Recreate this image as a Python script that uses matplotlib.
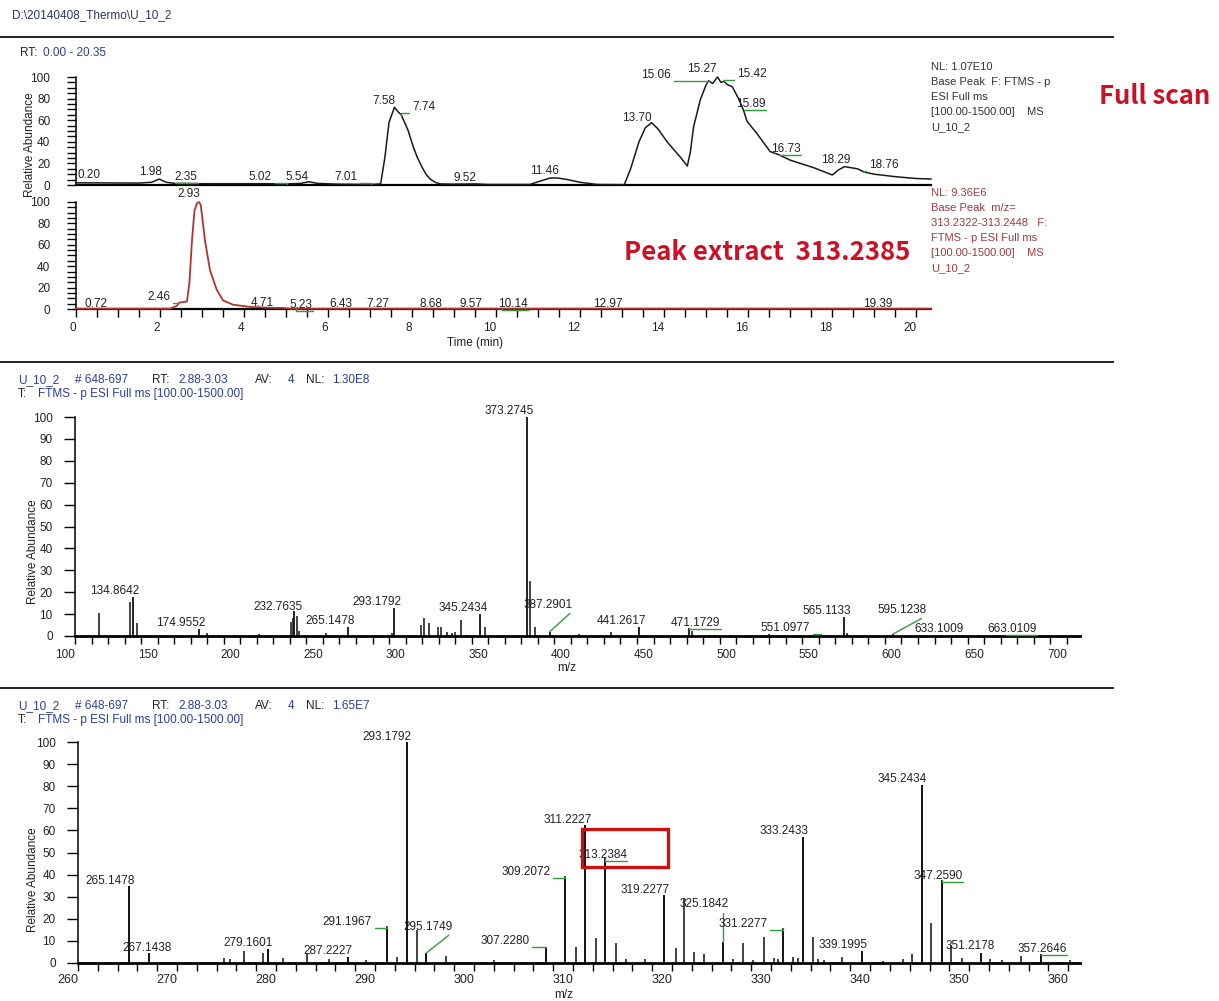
import matplotlib
matplotlib.use("Agg")
import matplotlib.pyplot as plt
from matplotlib.lines import Line2D
from matplotlib.patches import Rectangle

W, H = 1219, 1001
NARROW = ["Liberation Sans Narrow", "Liberation Sans", "DejaVu Sans"]
plt.rcParams["font.family"] = NARROW

INK = "#222222"
BLUE = "#2b3f9e"
GREEN = "#2f9e3a"
DARKRED = "#a33a3a"
BIGRED = "#cc1126"
FS = 8.5

# ---- base peak chromatogram, full scan (RT min, relative abundance) ----
bpc_rt = [0.00, 0.20, 1.50, 1.80, 1.98, 2.15, 2.35, 3.00, 4.50, 5.02,
          5.35, 5.54, 5.75, 6.20, 7.01, 7.25, 7.35, 7.45, 7.58, 7.66,
          7.74, 7.82, 7.90, 8.03, 8.13, 8.23, 8.33, 8.43, 8.55, 8.67,
          9.00, 9.52, 9.80, 10.80, 11.00, 11.29, 11.46, 11.70, 12.00, 12.40,
          13.05, 13.20, 13.40, 13.55, 13.70, 13.85, 14.07, 14.20, 14.38, 14.55,
          14.62, 14.70, 14.86, 15.00, 15.06, 15.15, 15.27, 15.35, 15.42, 15.50,
          15.62, 15.77, 15.89, 15.97, 16.20, 16.52, 16.73, 17.00, 17.56, 18.00,
          18.15, 18.29, 18.45, 18.60, 18.76, 19.00, 19.50, 20.00, 20.35]
bpc_ab = [2.0, 2.0, 1.8, 2.5, 5.5, 2.5, 1.5, 1.2, 1.2, 1.0,
          1.5, 3.0, 1.5, 0.8, 0.5, 1.0, 25, 58, 72, 68,
          65, 58, 51, 35, 25, 17, 10, 5.5, 2.5, 1.0,
          0.8, 1.0, 0.5, 0.5, 3.0, 6.5, 6.5, 5.0, 2.5, 0.5,
          0.3, 15, 40, 53, 57.7, 52, 40, 34, 26, 17.6,
          30, 54, 79, 93, 96.6, 94, 100, 95, 96, 93,
          91, 80, 69, 59, 48, 31, 28, 23, 16, 9.3,
          14, 17, 16, 15, 12, 10, 7.7, 6.0, 5.5]
bpc_labels = [0.20, 1.98, 2.35, 5.02, 5.54, 7.01, 7.58, 7.74, 9.52, 11.46,
              13.70, 15.06, 15.27, 15.42, 15.89, 16.73, 18.29, 18.76]

# ---- extracted ion chromatogram m/z 313.2322-313.2448 ----
xic_rt = [0.00, 0.72, 2.24, 2.40, 2.46, 2.64, 2.70, 2.76, 2.82, 2.88,
          2.93, 2.97, 3.07, 3.19, 3.35, 3.50, 3.74, 4.14, 4.71, 4.93,
          5.10, 5.23, 6.43, 7.27, 8.68, 9.57, 10.14, 12.97, 19.39, 20.35]
xic_ab = [0.3, 0.3, 0.3, 3.0, 6.0, 7.0, 25, 64, 92, 99,
          100, 97, 64, 36, 18, 8, 4, 2, 1, 1,
          0.3, 0.3, 0.3, 0.3, 0.3, 0.3, 0.3, 0.3, 0.3, 0.3]
xic_labels = [0.72, 2.46, 2.93, 4.71, 5.23, 6.43, 7.27, 8.68, 9.57, 10.14,
              12.97, 19.39]

# ---- averaged spectrum, RT 2.88-3.03, m/z 100-700 ----
ms_wide_mz = [134.8642, 174.9552, 232.7635, 265.1478, 293.1792, 345.2434,
              373.2745, 387.2901, 441.2617, 471.1729, 551.0977, 565.1133,
              595.1238, 633.1009, 663.0109]
ms_wide_ab = [18, 3, 11.5, 4.3, 12.8, 10, 100, 2, 4, 3.5, 1, 8.8, 1, 0.5, 0.5]
ms_wide_minor_mz = [114.4, 133.3, 137.5, 179.7, 211.6, 230.9, 231.9, 234.1,
                    235.6, 251.9, 291.5, 309.3, 311.4, 313.9, 319.7, 321.3,
                    325.0, 327.8, 330.0, 333.6, 348.0, 375.3, 378.0, 405.0,
                    424.5, 473.5, 520.0, 567.0]
ms_wide_minor_ab = [10.5, 15.7, 6, 1.3, 1, 6.5, 8, 9,
                    2.5, 1.5, 1.5, 5, 8.2, 6, 4, 4,
                    2, 1.5, 2, 7.3, 4, 25, 4, 1,
                    2, 2.5, 0.8, 1.5]

# ---- same spectrum, zoomed to m/z 260-361 ----
ms_zoom_mz = [265.1478, 267.1438, 279.1601, 287.2227, 291.1967, 293.1792,
              295.1749, 307.2280, 309.2072, 311.2227, 313.2384, 319.2277,
              325.1842, 331.2277, 333.2433, 339.1995, 345.2434, 347.2590,
              351.2178, 357.2646]
ms_zoom_ab = [35, 4.4, 6.2, 2.6, 16.7, 100, 4.4, 7, 39.5, 62.6, 47.4, 30.5,
              9.5, 15.8, 57.2, 5.5, 80.8, 37.3, 4.5, 4]
ms_zoom_minor_mz = [274.7, 275.4, 276.8, 278.7, 280.7, 283.1, 285.3, 289.1,
                    292.2, 294.2, 297.2, 302.0, 310.3, 312.3, 314.3, 315.3,
                    317.3, 320.4, 321.2, 322.2, 323.2, 326.2, 327.2, 328.2,
                    329.3, 330.3, 330.7, 332.2, 332.7, 334.2, 334.7, 335.3,
                    337.2, 341.3, 343.3, 344.2, 346.2, 348.2, 349.3, 352.1,
                    353.3, 355.2, 360.2]
ms_zoom_minor_ab = [2, 1.5, 5.3, 4.4, 2, 4.4, 1.5, 1,
                    2.6, 15, 3, 1, 7, 11.4, 9, 1.5,
                    1.5, 6.7, 29.5, 5, 4, 1.5, 9, 1,
                    11.7, 2, 1.5, 2.5, 2, 11.8, 1.5, 1,
                    2.5, 0.8, 1.5, 4, 18.2, 8, 2, 1.5,
                    1, 3, 1]

# label placement: (dx, dy) in pixels of the text's right/baseline corner
# relative to the apex, plus the leader style (None, "angle" or "diag")
bpc_label_pos = {0.20: (16, 5, None), 1.98: (3, 4, None), 2.35: (23, 3, "angle"),
                 5.02: (-15, 4, "angle"), 5.54: (0, 2, None), 7.01: (-13, 4, "angle"),
                 7.58: (1, 3, None), 7.74: (34, 5, "angle"), 9.52: (0, 3, None),
                 11.46: (1, 3.5, None), 13.70: (0, 2, None), 15.06: (-38, 3, "angle"),
                 15.27: (-1, 4.5, None), 15.42: (43, 4, "angle"), 15.89: (22, 3, "angle"),
                 16.73: (22, 2.5, "angle"), 18.29: (6, 4, None), 18.76: (34, 4.5, "angle")}
xic_label_pos = {0.72: (1, 2, None), 2.46: (-9, 2.6, "angle"), 2.93: (1, 4.5, None),
                 4.71: (0, 2, None), 5.23: (17, 1, "angle"), 6.43: (6, 2, None),
                 7.27: (8, 2, None), 8.68: (1.5, 2, None), 9.57: (4, 2, None),
                 10.14: (26, 2, "angle"), 12.97: (2, 2, None), 19.39: (2, 2, None)}
ms_wide_label_pos = {387.2901: (23, 24, "diag"), 471.1729: (32, 2.3, "angle"),
                     551.0977: (-10.5, 2.8, "angle"), 595.1238: (33, 21, "diag"),
                     663.0109: (31, 2.5, "angle"), 232.7635: (8, 1.3, None)}
ms_zoom_label_pos = {265.1478: (6, 1.2, None), 267.1438: (23, 2, None),
                     291.1967: (-15, 0.5, "angle"), 295.1749: (26, 23.5, "diag"),
                     307.2280: (-16, 3.5, "angle"), 309.2072: (-15, 0.5, "angle"),
                     311.2227: (7, 1.5, None), 313.2384: (22, 0.6, "angle"),
                     325.1842: (5, 34.6, "angle"), 331.2277: (-16, 1, "angle"),
                     347.2590: (21, 1, "angle"), 351.2178: (14, 3.3, None),
                     357.2646: (26, 2, "angle")}


def px_rect(x0, y0, x1, y1):
    return [x0 / W, 1 - y1 / H, (x1 - x0) / W, (y1 - y0) / H]


def fig_text(fig, x, y, s, **kw):
    kw.setdefault("fontsize", FS)
    kw.setdefault("va", "center")
    fig.text(x / W, 1 - y / H, s, **kw)


def label_peak(ax, x, y, text, pos, default=(5, 3, None)):
    dx, dy, leader = pos if pos is not None else default
    kw = {}
    if leader:
        style = "angle,angleA=0,angleB=90,rad=0" if leader == "angle" else "arc3"
        kw["arrowprops"] = dict(arrowstyle="-", color=GREEN, lw=1.0,
                                shrinkA=0, shrinkB=0, relpos=(1, 0),
                                connectionstyle=style)
    ax.annotate(text, xy=(x, y), xytext=(dx, dy), textcoords="offset pixels",
                ha="right", va="baseline", fontsize=FS, color=INK,
                annotation_clip=False, **kw)


def frame(ax, bottom_lw):
    for side in ("top", "right"):
        ax.spines[side].set_visible(False)
    ax.spines["left"].set_linewidth(1.1)
    ax.spines["bottom"].set_linewidth(bottom_lw)
    ax.patch.set_visible(False)


fig = plt.figure(figsize=(W / 100, H / 100), dpi=100)

# file header and panel separators
fig_text(fig, 12, 15, r"D:\20140408_Thermo\U_10_2", color="#2b3566")
for y in (37, 362, 688):
    fig.add_artist(Line2D([0, 1113 / W], [1 - y / H] * 2, color=INK, lw=1.4))
fig_text(fig, 20, 53, "RT:", color=INK)
fig_text(fig, 43, 53, "0.00 - 20.35", color=BLUE)

# ---------- chromatograms ----------
ax_bpc = fig.add_axes(px_rect(76, 77, 931, 185))
ax_xic = fig.add_axes(px_rect(76, 202, 931, 309))
for ax in (ax_bpc, ax_xic):
    frame(ax, 1.6)
    ax.set_xlim(0, 20.35)
    ax.set_ylim(0, 100)
    ax.set_yticks(range(0, 101, 20), [str(v) for v in range(0, 101, 20)],
                  fontsize=FS, color=INK)
    ax.set_yticks(range(0, 101, 5), minor=True)
    ax.tick_params(axis="y", which="both", direction="out", length=6.5,
                   width=1, pad=12)

ax_bpc.set_xticks([])
ax_bpc.plot(bpc_rt, bpc_ab, color="#1a1a1a", lw=1.1, clip_on=False, zorder=3)
bpc_lookup = dict(zip(bpc_rt, bpc_ab))
for rt in bpc_labels:
    label_peak(ax_bpc, rt, bpc_lookup[rt], f"{rt:.2f}", bpc_label_pos[rt])

ax_xic.set_xticks(range(0, 21, 2), [str(v) for v in range(0, 21, 2)],
                  fontsize=FS, color=INK, ha="right")
ax_xic.set_xticks([v * 0.5 for v in range(41)], minor=True)
ax_xic.tick_params(axis="x", which="both", direction="out", length=6,
                   width=1, pad=3.5)
ax_xic.plot(xic_rt, xic_ab, color="#b03434", lw=1.3, clip_on=False, zorder=3)
xic_lookup = dict(zip(xic_rt, xic_ab))
for rt in xic_labels:
    label_peak(ax_xic, rt, xic_lookup[rt], f"{rt:.2f}", xic_label_pos[rt])

fig_text(fig, 30, 145, "Relative Abundance", rotation=90, ha="center", color=INK)
fig_text(fig, 475, 343, "Time (min)", ha="center", color=INK)

# trace info blocks
for i, line in enumerate(["NL: 1.07E10", "Base Peak  F: FTMS - p", "ESI Full ms",
                          "[100.00-1500.00]    MS", "U_10_2"]):
    fig_text(fig, 931, 67 + 15 * i, line, color="#333333", fontsize=8)
for i, line in enumerate(["NL: 9.36E6", "Base Peak  m/z=", "313.2322-313.2448   F:",
                          "FTMS - p ESI Full ms", "[100.00-1500.00]    MS", "U_10_2"]):
    fig_text(fig, 931, 193 + 15 * i, line, color=DARKRED, fontsize=8)

big = dict(family=["Noto Sans CJK KR", "DejaVu Sans"], weight="bold",
           fontsize=18.5, color=BIGRED, ha="center")
fig_text(fig, 1155, 97, "Full scan", **big)
fig_text(fig, 767, 252, "Peak extract  313.2385", **big)


# ---------- spectra ----------
def spectrum_header(y, nl):
    pieces = [(18, "U_10_2", BLUE), (75, "# 648-697", BLUE), (152, "RT:", INK),
              (178, "2.88-3.03", BLUE), (255, "AV:", INK), (288, "4", BLUE),
              (306, "NL:", INK), (332, nl, BLUE)]
    for x, s, c in pieces:
        fig_text(fig, x, y, s, color=c)
    fig_text(fig, 18, y + 14, "T:", color=INK)
    fig_text(fig, 38, y + 14, "FTMS - p ESI Full ms [100.00-1500.00]", color=BLUE)


def spectrum_axes(rect, xlim, major, minor, tick_fs, tick_pad):
    ax = fig.add_axes(rect)
    frame(ax, 2.0)
    ax.set_xlim(*xlim)
    ax.set_ylim(0, 100)
    ax.set_xticks(major, [str(v) for v in major], fontsize=tick_fs,
                  color=INK, ha="right")
    ax.set_xticks(minor, minor=True)
    ax.tick_params(axis="x", which="both", direction="out", length=6,
                   width=1, pad=tick_pad)
    ax.set_yticks(range(0, 101, 10), [str(v) for v in range(0, 101, 10)],
                  fontsize=FS, color=INK)
    ax.tick_params(axis="y", direction="out", length=8, width=1, pad=8)
    return ax


spectrum_header(380, "1.30E8")
ax_ms = spectrum_axes(px_rect(75, 417, 1080, 636), (100, 708),
                      list(range(100, 701, 50)), list(range(100, 701, 10)),
                      FS, 3)
ax_ms.vlines(ms_wide_minor_mz, 0, ms_wide_minor_ab, color="#111111", lw=1.1)
ax_ms.vlines(ms_wide_mz, 0, ms_wide_ab, color="#111111", lw=1.3)
for mz, ab in zip(ms_wide_mz, ms_wide_ab):
    label_peak(ax_ms, mz, ab, f"{mz:.4f}", ms_wide_label_pos.get(mz),
               default=(7, 3, None))
fig_text(fig, 33, 552, "Relative Abundance", rotation=90, ha="center", color=INK)
fig_text(fig, 567, 668, "m/z", ha="center", color=INK)

spectrum_header(706, "1.65E7")
ax_zm = spectrum_axes(px_rect(78, 742.3, 1080, 962.7), (260, 361.2),
                      list(range(260, 361, 10)), list(range(260, 362, 2)),
                      9, 2)
ax_zm.vlines(ms_zoom_minor_mz, 0, ms_zoom_minor_ab, color="#111111", lw=1.1)
ax_zm.vlines(ms_zoom_mz, 0, ms_zoom_ab, color="#111111", lw=1.4)
for mz, ab in zip(ms_zoom_mz, ms_zoom_ab):
    label_peak(ax_zm, mz, ab, f"{mz:.4f}", ms_zoom_label_pos.get(mz),
               default=(5, 2.7, None))
# highlight the extracted ion
ax_zm.add_patch(Rectangle((310.9, 43.5), 8.7, 17.3, fill=False,
                          ec="#cc1010", lw=2.4, clip_on=False, zorder=5))
fig_text(fig, 33, 880, "Relative Abundance", rotation=90, ha="center", color=INK)
fig_text(fig, 564, 995, "m/z", ha="center", color=INK)

fig.savefig("out.png", dpi=100)
